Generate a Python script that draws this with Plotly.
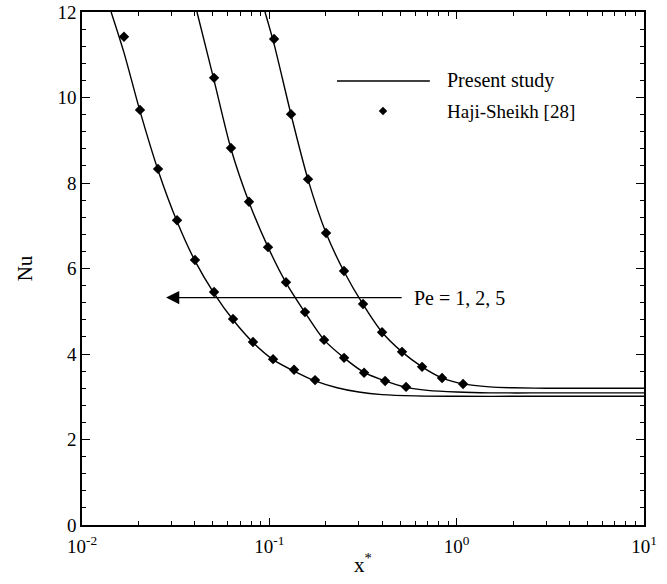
import plotly.graph_objects as go
import math

# ---- data ----
# Present study (lines)
line_x_pe1 = [0.0143, 0.01675, 0.0204, 0.02546, 0.03216, 0.0401, 0.0507, 0.064, 0.0818, 0.1047, 0.1355, 0.1754, 0.23, 0.3, 0.4, 0.6, 1.0, 2.0, 10.0]
line_nu_pe1 = [12.0, 11.05, 9.68, 8.30, 7.10, 6.18, 5.42, 4.80, 4.27, 3.87, 3.60, 3.37, 3.21, 3.11, 3.05, 3.02, 3.01, 3.01, 3.01]

line_x_pe2 = [0.0411, 0.0507, 0.0624, 0.0779, 0.0984, 0.1227, 0.155, 0.196, 0.2506, 0.3205, 0.415, 0.537, 0.7, 1.0, 1.5, 2.5, 10.0]
line_nu_pe2 = [12.0, 10.4, 8.80, 7.55, 6.50, 5.67, 4.97, 4.33, 3.91, 3.57, 3.37, 3.22, 3.15, 3.11, 3.09, 3.09, 3.09]

line_x_pe5 = [0.0948, 0.106, 0.1306, 0.1609, 0.2008, 0.2504, 0.3164, 0.3997, 0.511, 0.6537, 0.8356, 1.082, 1.5, 2.0, 3.0, 10.0]
line_nu_pe5 = [12.0, 11.25, 9.6, 8.08, 6.83, 5.93, 5.16, 4.51, 4.05, 3.70, 3.44, 3.30, 3.23, 3.21, 3.20, 3.20]

# Haji-Sheikh [28] (markers)
pt_x_pe1 = [0.01675, 0.0204, 0.02546, 0.03216, 0.0401, 0.0507, 0.064, 0.0818, 0.1047, 0.1355, 0.1754]
pt_nu_pe1 = [11.42, 9.71, 8.33, 7.13, 6.20, 5.45, 4.82, 4.28, 3.88, 3.63, 3.39]

pt_x_pe2 = [0.0507, 0.0624, 0.0779, 0.0984, 0.1227, 0.155, 0.196, 0.2506, 0.3205, 0.415, 0.537]
pt_nu_pe2 = [10.46, 8.82, 7.56, 6.50, 5.68, 4.98, 4.33, 3.91, 3.56, 3.37, 3.23]

pt_x_pe5 = [0.106, 0.1306, 0.1609, 0.2008, 0.2504, 0.3164, 0.3997, 0.511, 0.6537, 0.8356, 1.082]
pt_nu_pe5 = [11.37, 9.61, 8.09, 6.83, 5.94, 5.17, 4.51, 4.05, 3.70, 3.44, 3.30]

x_tick_vals = [0.01, 0.1, 1, 10]
x_tick_text = ["10<sup>-2</sup>", "10<sup>-1</sup>", "10<sup>0</sup>", "10<sup>1</sup>"]
y_tick_vals = [0, 2, 4, 6, 8, 10, 12]

arrow_tip_x = 0.0281
arrow_tail_x = 0.518
arrow_y = 5.32
label_x = 0.578
label_text = "Pe = 1, 2, 5"

FONT = "Liberation Serif, Times New Roman, serif"

fig = go.Figure()
for xs, ys in [(line_x_pe1, line_nu_pe1), (line_x_pe2, line_nu_pe2), (line_x_pe5, line_nu_pe5)]:
    fig.add_trace(go.Scatter(x=xs, y=ys, mode="lines", line=dict(color="black", width=1.4, shape="spline", smoothing=0.8),
                             showlegend=False, cliponaxis=True))
for xs, ys in [(pt_x_pe1, pt_nu_pe1), (pt_x_pe2, pt_nu_pe2), (pt_x_pe5, pt_nu_pe5)]:
    fig.add_trace(go.Scatter(x=xs, y=ys, mode="markers", marker=dict(symbol="diamond", size=8, color="black"),
                             showlegend=False))

# custom legend (paper coords)
fig.add_shape(type="line", xref="paper", yref="paper", x0=0.4537, x1=0.619, y0=0.8655, y1=0.8655,
              line=dict(color="black", width=1.4))
dx, dy = 0.0075, 0.0085
cx, cy = 0.5356, 0.807
fig.add_shape(type="path", xref="paper", yref="paper",
              path=f"M {cx-dx},{cy} L {cx},{cy+dy} L {cx+dx},{cy} L {cx},{cy-dy} Z",
              fillcolor="black", line=dict(color="black", width=0))
fig.add_annotation(xref="paper", yref="paper", x=0.646, y=0.8655, text="Present study", showarrow=False,
                   xanchor="left", yanchor="middle", font=dict(family=FONT, size=20, color="black"))
fig.add_annotation(xref="paper", yref="paper", x=0.646, y=0.807, text="Haji-Sheikh [28]", showarrow=False,
                   xanchor="left", yanchor="middle", font=dict(family=FONT, size=19, color="black"))

# arrow
fig.add_annotation(x=math.log10(arrow_tip_x), y=arrow_y, ax=math.log10(arrow_tail_x), ay=arrow_y,
                   xref="x", yref="y", axref="x", ayref="y", text="", showarrow=True,
                   arrowhead=2, arrowsize=2.2, arrowwidth=1.2, arrowcolor="black")
fig.add_annotation(x=math.log10(label_x), y=arrow_y, xref="x", yref="y", text=label_text, showarrow=False,
                   xanchor="left", yanchor="middle", font=dict(family=FONT, size=20, color="black"))

fig.update_layout(
    width=667, height=584,
    margin=dict(l=82, r=23, t=12, b=59, autoexpand=False),
    plot_bgcolor="white", paper_bgcolor="white",
    font=dict(family=FONT, size=19, color="black"),
    showlegend=False,
)
fig.update_xaxes(type="log", range=[-2, 1], tickvals=x_tick_vals, ticktext=x_tick_text,
                 ticks="inside", ticklen=7, tickwidth=1.2, tickcolor="black",
                 showline=True, linecolor="black", linewidth=1.5, mirror="ticks",
                 showgrid=False, zeroline=False, automargin=False, ticklabelstandoff=3,
                 minor=dict(ticks="inside", ticklen=4, tickwidth=1, tickcolor="black", dtick="D1", showgrid=False),
                 title=dict(text="x<sup>*</sup>", font=dict(family=FONT, size=21), standoff=2))
fig.update_yaxes(range=[0, 12], tickvals=y_tick_vals,
                 ticks="inside", ticklen=8, tickwidth=1.2, tickcolor="black",
                 showline=True, linecolor="black", linewidth=1.5, mirror="ticks",
                 showgrid=False, zeroline=False, automargin=False,
                 minor=dict(ticks="inside", ticklen=4, tickwidth=1, tickcolor="black", dtick=0.4, showgrid=False),
                 title=dict(text="Nu", font=dict(family=FONT, size=21), standoff=19))

fig.write_html("out.html", config={"displayModeBar": False},
               post_script="document.body.style.margin='0';document.body.style.padding='0';")
